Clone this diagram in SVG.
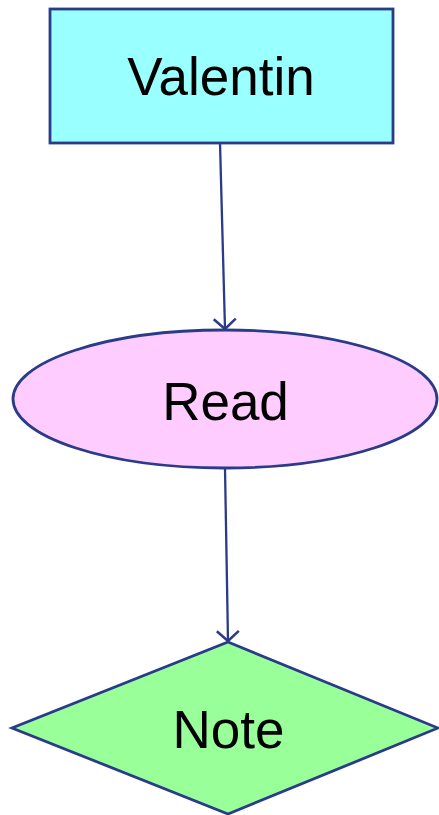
<svg xmlns="http://www.w3.org/2000/svg" width="439" height="815" viewBox="0 0 439 815">
<style>
.shape{stroke:#2a3b8a;stroke-width:2.8}
.lbl{font-family:"Liberation Sans",Arial,sans-serif;font-size:53px;fill:#000;text-anchor:middle}
.edge{stroke:#2a3b8a;stroke-width:2.3;fill:none}
</style>
<defs>
<marker id="arr" viewBox="0 0 14 26" refX="12" refY="13" markerWidth="14" markerHeight="26" markerUnits="userSpaceOnUse" orient="auto">
<path d="M2,2 L12,13 L2,24" fill="none" stroke="#2a3b8a" stroke-width="2.5"/>
</marker>
</defs>
<rect width="439" height="815" fill="#fff"/>
<g id="connectors">
<line class="edge" x1="220" y1="143" x2="225" y2="329" marker-end="url(#arr)"/>
<line class="edge" x1="225" y1="468" x2="228" y2="641" marker-end="url(#arr)"/>
</g>
<g id="node-valentin">
<rect class="shape" x="50" y="9" width="343" height="134" fill="#99ffff"/>
<text class="lbl" x="221" y="95">Valentin</text>
</g>
<g id="node-read">
<ellipse class="shape" cx="225" cy="399" rx="212" ry="69" fill="#ffccff"/>
<text class="lbl" x="225.5" y="420">Read</text>
</g>
<g id="node-note">
<polygon class="shape" points="228,642 438,728 228,814 12,728" fill="#99ff99"/>
<text class="lbl" x="228.5" y="748">Note</text>
</g>
</svg>
